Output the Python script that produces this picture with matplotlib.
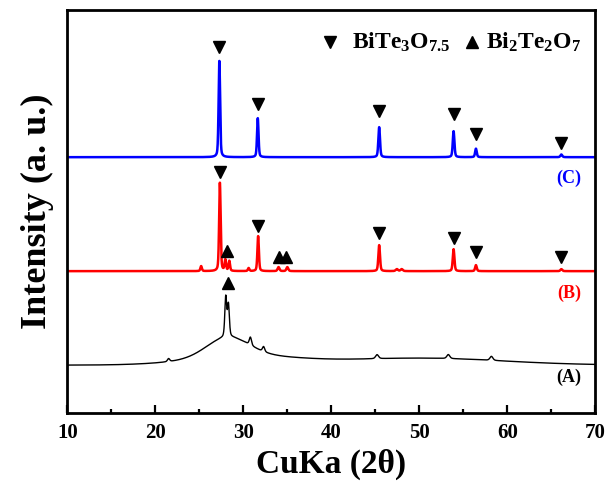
import numpy as np
import matplotlib
matplotlib.use("Agg")
import matplotlib.pyplot as plt

plt.rcParams.update({
    "font.family": ["Liberation Serif", "DejaVu Serif"],
    "font.weight": "bold",
    "mathtext.fontset": "custom",
    "mathtext.rm": "Liberation Serif:bold",
    "mathtext.it": "Liberation Serif:italic:bold",
    "mathtext.bf": "Liberation Serif:bold",
})

# peak tables: position (2theta), height, fwhm
# heights are in plot units above each curve's own baseline
c_pos = [27.27, 31.64, 45.44, 53.90, 56.44, 66.15]
c_height = [97, 39, 30, 26, 8.5, 2.7]
c_width = [0.20, 0.20, 0.22, 0.22, 0.22, 0.25]
c_base = 256

b_pos = [25.20, 27.33, 27.95, 28.40, 30.60, 31.68, 34.00, 35.00, 45.44, 47.45, 48.00, 53.90, 56.44, 66.15]
b_height = [5, 89, 11, 10, 3, 35, 4, 4, 26, 2, 2, 22, 6, 2]
b_width = [0.20, 0.20, 0.20, 0.20, 0.20, 0.20, 0.25, 0.25, 0.22, 0.3, 0.3, 0.22, 0.22, 0.25]
b_base = 142

# amorphous sample: broad humps (first three) plus a few sharp peaks
a_pos = [28.2, 30.0, 50.0, 21.5, 28.00, 28.30, 30.80, 32.30, 45.20, 53.30, 58.20]
a_height = [19, 9, 7, 3, 40, 32, 8, 5, 4, 4, 4]
a_width = [5.5, 14.0, 22.0, 0.3, 0.25, 0.25, 0.3, 0.3, 0.4, 0.4, 0.4]
a_base = 48

# phase markers: (2theta, y)
c_down_x = [27.27, 31.64, 45.44, 53.90, 56.44, 66.15]
c_down_y = [366, 309, 302, 299, 279, 270]
b_down_x = [27.30, 31.68, 45.44, 53.90, 56.44, 66.15]
b_down_y = [241, 187, 180, 175, 161, 156]
b_up_x = [28.10, 34.00, 34.85]
b_up_y = [162, 156, 156]
a_up_x = [28.20]
a_up_y = [130]

twotheta = np.arange(10, 70.001, 0.02)


def pattern(pos, height, width, base):
    y = np.full_like(twotheta, float(base))
    for p, h, w in zip(pos, height, width):
        g = np.exp(-4 * np.log(2) * ((twotheta - p) / w) ** 2)
        if w > 2:
            y += h * g  # broad amorphous hump
        else:
            lz = 1 / (1 + 4 * ((twotheta - p) / w) ** 2)
            y += h * (0.6 * g + 0.4 * lz)
    return y


fig = plt.figure(figsize=(6.13, 4.86), dpi=100)
ax = fig.add_axes([0.110, 0.150, 0.861, 0.830])

ax.plot(twotheta, pattern(a_pos, a_height, a_width, a_base), color="black", lw=1.0)
ax.plot(twotheta, pattern(b_pos, b_height, b_width, b_base), color="#ff0000", lw=1.8)
ax.plot(twotheta, pattern(c_pos, c_height, c_width, c_base), color="#0000ff", lw=1.8)

mk = dict(ls="none", color="black", ms=9)
ax.plot(c_down_x, c_down_y, marker="v", **mk)
ax.plot(b_down_x, b_down_y, marker="v", **mk)
ax.plot(b_up_x, b_up_y, marker="^", **mk)
ax.plot(a_up_x, a_up_y, marker="^", **mk)

# legend row drawn as text
ax.plot([39.86], [371], marker="v", **mk)
ax.text(42.3, 371, r"BiTe$_3$O$_{7.5}$", fontsize=17, fontweight="bold", va="center", ha="left")
ax.plot([55.98], [371], marker="^", **mk)
ax.text(57.6, 371, r"Bi$_2$Te$_2$O$_7$", fontsize=17, fontweight="bold", va="center", ha="left")

ax.text(68.4, 235, "(C)", color="#0000ff", fontsize=13, fontweight="bold", ha="right", va="center")
ax.text(68.4, 120, "(B)", color="#ff0000", fontsize=13, fontweight="bold", ha="right", va="center")
ax.text(68.4, 36, "(A)", color="black", fontsize=13, fontweight="bold", ha="right", va="center")

ax.set_xlim(10, 70)
ax.set_ylim(0, 403.5)
ax.set_xticks(np.arange(10, 71, 10))
ax.set_xticks(np.arange(15, 70, 10), minor=True)
ax.set_yticks([])
ax.tick_params(axis="x", which="major", direction="in", length=6, width=1.6, pad=7, labelsize=15)
ax.tick_params(axis="x", which="minor", direction="in", length=3, width=1.6)
for lab in ax.get_xticklabels():
    lab.set_fontweight("bold")
for sp in ax.spines.values():
    sp.set_linewidth(2)

ax.set_xlabel("CuKa (2θ)", fontsize=24, fontweight="bold", labelpad=4)
ax.set_ylabel("Intensity (a. u.)", fontsize=26, fontweight="bold", labelpad=10)

fig.savefig("out.png", dpi=100)
